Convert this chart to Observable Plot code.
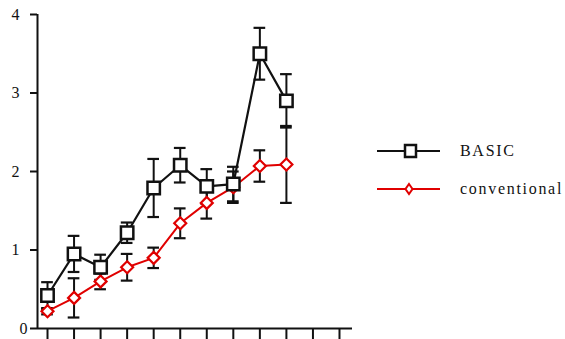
<!DOCTYPE html>
<html>
<head>
<meta charset="utf-8">
<script src="https://cdn.jsdelivr.net/npm/d3@7"></script>
<script src="https://cdn.jsdelivr.net/npm/@observablehq/plot@0.6"></script>
<style>
  html, body { margin: 0; padding: 0; background: #fff; }
  #wrap { position: relative; width: 565px; height: 339px; overflow: hidden; }
  .leg { position: absolute; left: 377px; font-family: "Liberation Serif", "Times New Roman", serif; font-size: 16px; letter-spacing: 1.7px; color: #111; display: flex; align-items: center; }
  .leg svg { margin-right: 20px; }
  svg text { font-family: "Liberation Serif", "Times New Roman", serif; }
</style>
</head>
<body>
<div id="wrap"></div>
<script>
// ---- data ----
const groups = [1, 2, 3, 4, 5, 6, 7, 8, 9, 10];
const xTicks = [1, 2, 3, 4, 5, 6, 7, 8, 9, 10, 11, 12];
const yTicks = [0, 1, 2, 3, 4];
const basicMean = [0.42, 0.95, 0.78, 1.22, 1.79, 2.08, 1.81, 1.84, 3.50, 2.90];
const basicErr  = [0.17, 0.23, 0.16, 0.13, 0.37, 0.22, 0.22, 0.22, 0.33, 0.34];
const convMean  = [0.22, 0.39, 0.60, 0.78, 0.90, 1.34, 1.60, 1.80, 2.07, 2.09];
const convErr   = [0.04, 0.25, 0.10, 0.17, 0.13, 0.19, 0.20, 0.20, 0.20, 0.49];
const seriesNames = ["BASIC", "conventional"];

const basic = groups.map((g, i) => ({x: g, y: basicMean[i], lo: basicMean[i] - basicErr[i], hi: basicMean[i] + basicErr[i]}));
const conv  = groups.map((g, i) => ({x: g, y: convMean[i], lo: convMean[i] - convErr[i], hi: convMean[i] + convErr[i]}));
const all = conv.concat(basic);

const xMin = 0.623, xMax = 12.49;
const capW = 0.22;
const serif = "'Liberation Serif', 'Times New Roman', serif";

const chart = Plot.plot({
  width: 565,
  height: 339,
  marginLeft: 37,
  marginRight: 213,
  marginTop: 14,
  marginBottom: 11,
  x: {domain: [xMin, xMax], axis: null, label: null},
  y: {domain: [0, 4], axis: null, label: null},
  style: {fontFamily: serif, fontSize: "16px", background: "white", color: "#111"},
  marks: [
    Plot.axisY(yTicks.filter(d => d > 0), {anchor: "left", label: null, tickSize: 7, tickPadding: 11, strokeWidth: 2, fontSize: 16, fontFamily: serif, tickFormat: d => String(d)}),
    Plot.axisY([0], {anchor: "left", label: null, tickSize: 7, tickPadding: 3, strokeWidth: 2, fontSize: 16, fontFamily: serif, tickFormat: d => String(d)}),
    Plot.axisX(xTicks, {anchor: "bottom", label: null, tickSize: 11, strokeWidth: 2, tickFormat: () => ""}),
    Plot.ruleX([xMin], {y1: 0, y2: 4, strokeWidth: 2, stroke: "#111"}),
    Plot.ruleY([0], {x1: xMin, x2: xMax, strokeWidth: 2, stroke: "#111"}),
    // error bars
    Plot.ruleX(all, {x: "x", y1: "lo", y2: "hi", stroke: "#111", strokeWidth: 2}),
    Plot.ruleY(all, {y: "hi", x1: d => d.x - capW, x2: d => d.x + capW, stroke: "#111", strokeWidth: 2.2}),
    Plot.ruleY(all, {y: "lo", x1: d => d.x - capW, x2: d => d.x + capW, stroke: "#111", strokeWidth: 2.2}),
    // lines
    Plot.line(conv, {x: "x", y: "y", stroke: "#e00000", strokeWidth: 2}),
    Plot.line(basic, {x: "x", y: "y", stroke: "#111", strokeWidth: 2.2}),
    Plot.dot(conv, {x: "x", y: "y", symbol: "diamond2", r: 5.4, fill: "white", stroke: "#e00000", strokeWidth: 2.2}),
    Plot.dot(basic, {x: "x", y: "y", symbol: "square", r: 7, fill: "white", stroke: "#111", strokeWidth: 2.5})
  ]
});

const wrap = document.getElementById("wrap");
wrap.appendChild(chart);

// legend
const legItems = [
  {name: seriesNames[0], color: "#111", top: 142, sym: '<rect x="28" y="3" width="11" height="12" fill="white" stroke="#111" stroke-width="2.5"/>'},
  {name: seriesNames[1], color: "#e00000", top: 180, sym: '<path d="M32,4 L35.5,9 L32,14 L28.5,9 Z" fill="white" stroke="#e00000" stroke-width="2"/>'}
];
for (const it of legItems) {
  const d = document.createElement("div");
  d.className = "leg";
  d.style.top = it.top + "px";
  d.innerHTML = `<svg width="63" height="18"><line x1="0" y1="9" x2="63" y2="9" stroke="${it.color}" stroke-width="2"/>${it.sym}</svg><span>${it.name}</span>`;
  wrap.appendChild(d);
}
</script>
</body>
</html>
